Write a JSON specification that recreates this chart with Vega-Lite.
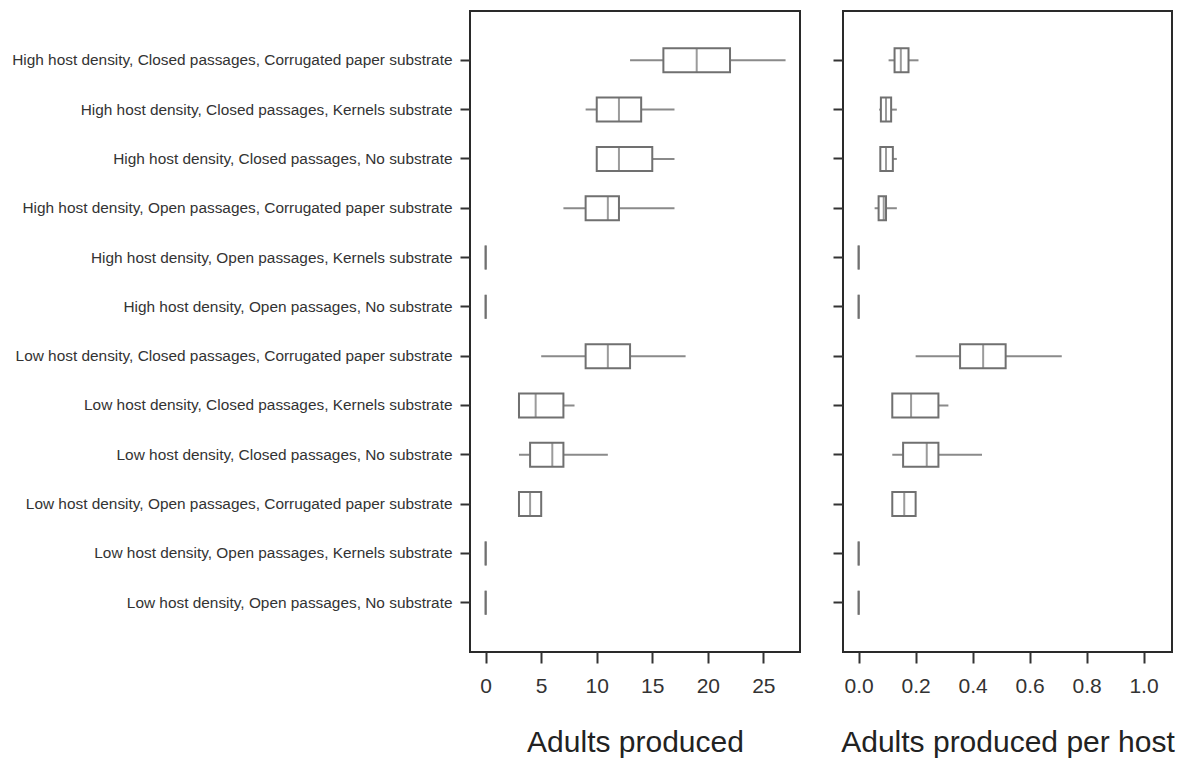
{
  "$schema": "https://vega.github.io/schema/vega-lite/v6.json",
  "padding": {"left": 10, "top": 10, "right": 5, "bottom": 5},
  "background": "white",
  "config": {
    "view": {"stroke": "#2a2a2a", "strokeWidth": 2},
    "font": "Liberation Sans",
    "axis": {"grid": false, "domain": false, "tickColor": "#333", "tickWidth": 2, "labelColor": "#333", "titleColor": "#222", "titleFontWeight": "normal"}
  },
  "datasets": {
    "boxes": [
      {"label": "High host density, Closed passages, Corrugated paper substrate", "min": 13, "q1": 16, "med": 19, "q3": 22, "max": 27, "pmin": 0.105, "pq1": 0.126, "pmed": 0.148, "pq3": 0.175, "pmax": 0.21},
      {"label": "High host density, Closed passages, Kernels substrate", "min": 9, "q1": 10, "med": 12, "q3": 14, "max": 17, "pmin": 0.072, "pq1": 0.078, "pmed": 0.096, "pq3": 0.114, "pmax": 0.134},
      {"label": "High host density, Closed passages, No substrate", "min": 10, "q1": 10, "med": 12, "q3": 15, "max": 17, "pmin": 0.076, "pq1": 0.076, "pmed": 0.096, "pq3": 0.12, "pmax": 0.134},
      {"label": "High host density, Open passages, Corrugated paper substrate", "min": 7, "q1": 9, "med": 11, "q3": 12, "max": 17, "pmin": 0.056, "pq1": 0.07, "pmed": 0.088, "pq3": 0.096, "pmax": 0.134},
      {"label": "High host density, Open passages, Kernels substrate", "min": 0, "q1": 0, "med": 0, "q3": 0, "max": 0, "pmin": 0, "pq1": 0, "pmed": 0, "pq3": 0, "pmax": 0},
      {"label": "High host density, Open passages, No substrate", "min": 0, "q1": 0, "med": 0, "q3": 0, "max": 0, "pmin": 0, "pq1": 0, "pmed": 0, "pq3": 0, "pmax": 0},
      {"label": "Low host density, Closed passages, Corrugated paper substrate", "min": 5, "q1": 9, "med": 11, "q3": 13, "max": 18, "pmin": 0.2, "pq1": 0.356, "pmed": 0.437, "pq3": 0.516, "pmax": 0.713},
      {"label": "Low host density, Closed passages, Kernels substrate", "min": 3, "q1": 3, "med": 4.5, "q3": 7, "max": 8, "pmin": 0.118, "pq1": 0.118, "pmed": 0.184, "pq3": 0.28, "pmax": 0.315},
      {"label": "Low host density, Closed passages, No substrate", "min": 3, "q1": 4, "med": 6, "q3": 7, "max": 11, "pmin": 0.118, "pq1": 0.156, "pmed": 0.239, "pq3": 0.28, "pmax": 0.433},
      {"label": "Low host density, Open passages, Corrugated paper substrate", "min": 3, "q1": 3, "med": 4, "q3": 5, "max": 5, "pmin": 0.118, "pq1": 0.118, "pmed": 0.16, "pq3": 0.2, "pmax": 0.2},
      {"label": "Low host density, Open passages, Kernels substrate", "min": 0, "q1": 0, "med": 0, "q3": 0, "max": 0, "pmin": 0, "pq1": 0, "pmed": 0, "pq3": 0, "pmax": 0},
      {"label": "Low host density, Open passages, No substrate", "min": 0, "q1": 0, "med": 0, "q3": 0, "max": 0, "pmin": 0, "pq1": 0, "pmed": 0, "pq3": 0, "pmax": 0}
    ]
  },
  "spacing": 30,
  "hconcat": [
    {
      "width": 330,
      "height": 641,
      "data": {"name": "boxes"},
      "encoding": {
        "y": {"field": "label", "type": "nominal", "sort": null,
          "scale": {"paddingInner": 0, "paddingOuter": 0.5},
          "axis": {"title": null, "tickSize": 10, "labelPadding": 8, "labelFontSize": 15.4, "labelLimit": 600}}
      },
      "layer": [
        {"mark": {"type": "rule", "color": "#8a8a8a", "strokeWidth": 2},
          "encoding": {"x": {"field": "min", "type": "quantitative",
            "scale": {"domain": [-1.41, 28.3], "nice": false, "zero": false},
            "axis": {"title": "Adults produced", "values": [0, 5, 10, 15, 20, 25], "tickSize": 11, "labelPadding": 12, "labelFontSize": 21, "titleFontSize": 30, "titlePadding": 31}},
            "x2": {"field": "max"}}},
        {"mark": {"type": "bar", "fill": "white", "stroke": "#707070", "strokeWidth": 2, "size": 24},
          "encoding": {"x": {"field": "q1", "type": "quantitative"}, "x2": {"field": "q3"}}},
        {"mark": {"type": "tick", "color": "#707070", "thickness": 2, "size": 24},
          "encoding": {"x": {"field": "med", "type": "quantitative"}}}
      ]
    },
    {
      "width": 329,
      "height": 641,
      "data": {"name": "boxes"},
      "encoding": {
        "y": {"field": "label", "type": "nominal", "sort": null,
          "scale": {"paddingInner": 0, "paddingOuter": 0.5},
          "axis": {"title": null, "tickSize": 10, "labels": false}}
      },
      "layer": [
        {"mark": {"type": "rule", "color": "#8a8a8a", "strokeWidth": 2},
          "encoding": {"x": {"field": "pmin", "type": "quantitative",
            "scale": {"domain": [-0.055, 1.1], "nice": false, "zero": false},
            "axis": {"title": "Adults produced per host", "values": [0, 0.2, 0.4, 0.6, 0.8, 1.0], "format": ".1f", "tickSize": 11, "labelPadding": 12, "labelFontSize": 21, "titleFontSize": 30, "titlePadding": 31}},
            "x2": {"field": "pmax"}}},
        {"mark": {"type": "bar", "fill": "white", "stroke": "#707070", "strokeWidth": 2, "size": 24},
          "encoding": {"x": {"field": "pq1", "type": "quantitative"}, "x2": {"field": "pq3"}}},
        {"mark": {"type": "tick", "color": "#707070", "thickness": 2, "size": 24},
          "encoding": {"x": {"field": "pmed", "type": "quantitative"}}}
      ]
    }
  ]
}
